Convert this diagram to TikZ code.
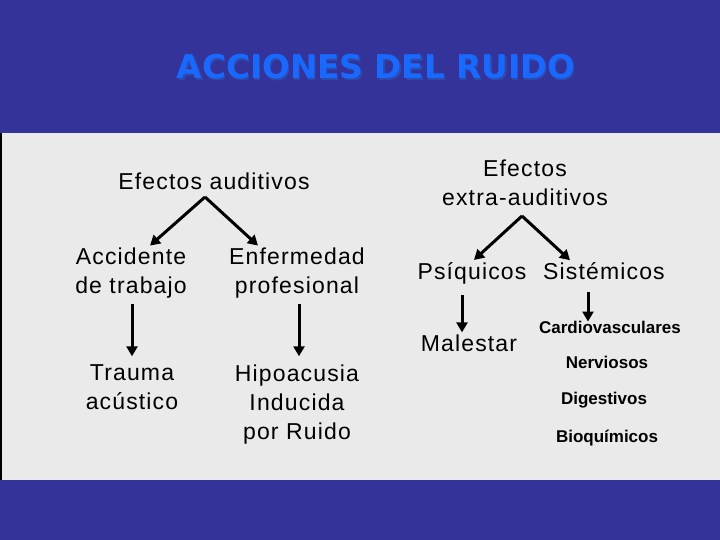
\documentclass[tikz,border=0pt]{standalone}
\usepackage{fontspec}
\setmainfont{Liberation Sans}
\newfontfamily\titlefont{DejaVu Sans}
\newfontfamily\bodyfont[LetterSpace=5]{Liberation Sans}
\usetikzlibrary{arrows.meta,positioning,calc}
\definecolor{dblue}{RGB}{51, 51, 153}
\definecolor{lgray}{RGB}{234, 234, 234}
\definecolor{tblue}{RGB}{25, 105, 255}
\definecolor{sblue}{RGB}{45, 75, 175}
\tikzstyle{item} = [align=center, inner sep=2pt, font=\bodyfont\fontsize{23}{29}\selectfont]
\tikzstyle{sub} = [inner sep=2pt, font=\bfseries\fontsize{17}{20}\selectfont]
\tikzstyle{line} = [draw, line width=3pt, color=black, -{Triangle[length=10pt,width=11pt]}]
\tikzstyle{heading} = [inner sep=0pt, font=\titlefont\bfseries\fontsize{32.7}{36}\selectfont]

\begin{document}
\begin{tikzpicture}[x=1pt,y=-1pt]

  % background
  \fill[dblue] (0,0) rectangle (720,540);
  \fill[lgray] (0,133) rectangle (720,480);
  \draw[black, line width=2pt] (1,133) -- (1,480);

  % title with shadow
  \node [heading, text=sblue] (title-shadow) at (377.5,68.5) {ACCIONES DEL RUIDO};
  \node [heading, text=tblue] (title) at (376,67) {ACCIONES DEL RUIDO};

  %%%%%%%%%%%%%%%%%%%%%%%%%%%%%%%%%%%%%%%%%%%%%%%%%%%%%%%%%%%%%%
  %                    EFECTOS AUDITIVOS                       %
  %%%%%%%%%%%%%%%%%%%%%%%%%%%%%%%%%%%%%%%%%%%%%%%%%%%%%%%%%%%%%%

  \node [item] (auditivos) at (214,181) {Efectos auditivos};
  \coordinate (auditivos-apex) at (205,197);
  \node [item] (accidente) at (131,273) {Accidente\\de trabajo};
  \node [item] (enfermedad) at (297,273) {Enfermedad\\profesional};
  \node [item] (trauma) at (132,387) {Trauma\\acústico};
  \node [item] (hipoacusia) at (297,405) {Hipoacusia\\Inducida\\por Ruido};

  \draw[line] (auditivos-apex) -- ([xshift=19pt]accidente.north);
  \draw[line] (auditivos-apex) -- ([xshift=-39pt]enfermedad.north);
  \draw[line, shorten <=4pt, shorten >=6pt] ([xshift=1pt]accidente.south) -- ([xshift=1pt]accidente.south |- trauma.north);
  \draw[line, shorten <=4pt, shorten >=6pt] ([xshift=2pt]enfermedad.south) -- ([xshift=2pt]enfermedad.south |- trauma.north);

  %%%%%%%%%%%%%%%%%%%%%%%%%%%%%%%%%%%%%%%%%%%%%%%%%%%%%%%%%%%%%%
  %                    EFECTOS EXTRA-AUDITIVOS                 %
  %%%%%%%%%%%%%%%%%%%%%%%%%%%%%%%%%%%%%%%%%%%%%%%%%%%%%%%%%%%%%%

  \node [item] (extra) at (525,183) {Efectos\\extra-auditivos};
  \coordinate (extra-apex) at (522,216);
  \node [item] (psiquicos) at (472,273) {Psíquicos};
  \node [item] (sistemicos) at (604,271) {Sistémicos};
  \node [item] (malestar) at (469,343) {Malestar};
  \node [sub] (cardio) at (610,327) {Cardiovasculares};
  \node [sub] (nerviosos) at (607,362) {Nerviosos};
  \node [sub] (digestivos) at (604,400) {Digestivos};
  \node [sub] (bioquimicos) at (607,438) {Bioquímicos};

  \draw[line] (extra-apex) -- ([xshift=2pt]psiquicos.north);
  \draw[line] (extra-apex) -- ([xshift=-34pt]sistemicos.north);
  \draw[line, shorten <=9pt, shorten >=0pt] ([xshift=-10pt]psiquicos.south) -- ([xshift=-10pt]psiquicos.south |- malestar.north);
  \draw[line, shorten <=10pt, shorten >=-3pt] ([xshift=-16pt]sistemicos.south) -- ([xshift=-16pt]sistemicos.south |- cardio.north);

\end{tikzpicture}
\end{document}
